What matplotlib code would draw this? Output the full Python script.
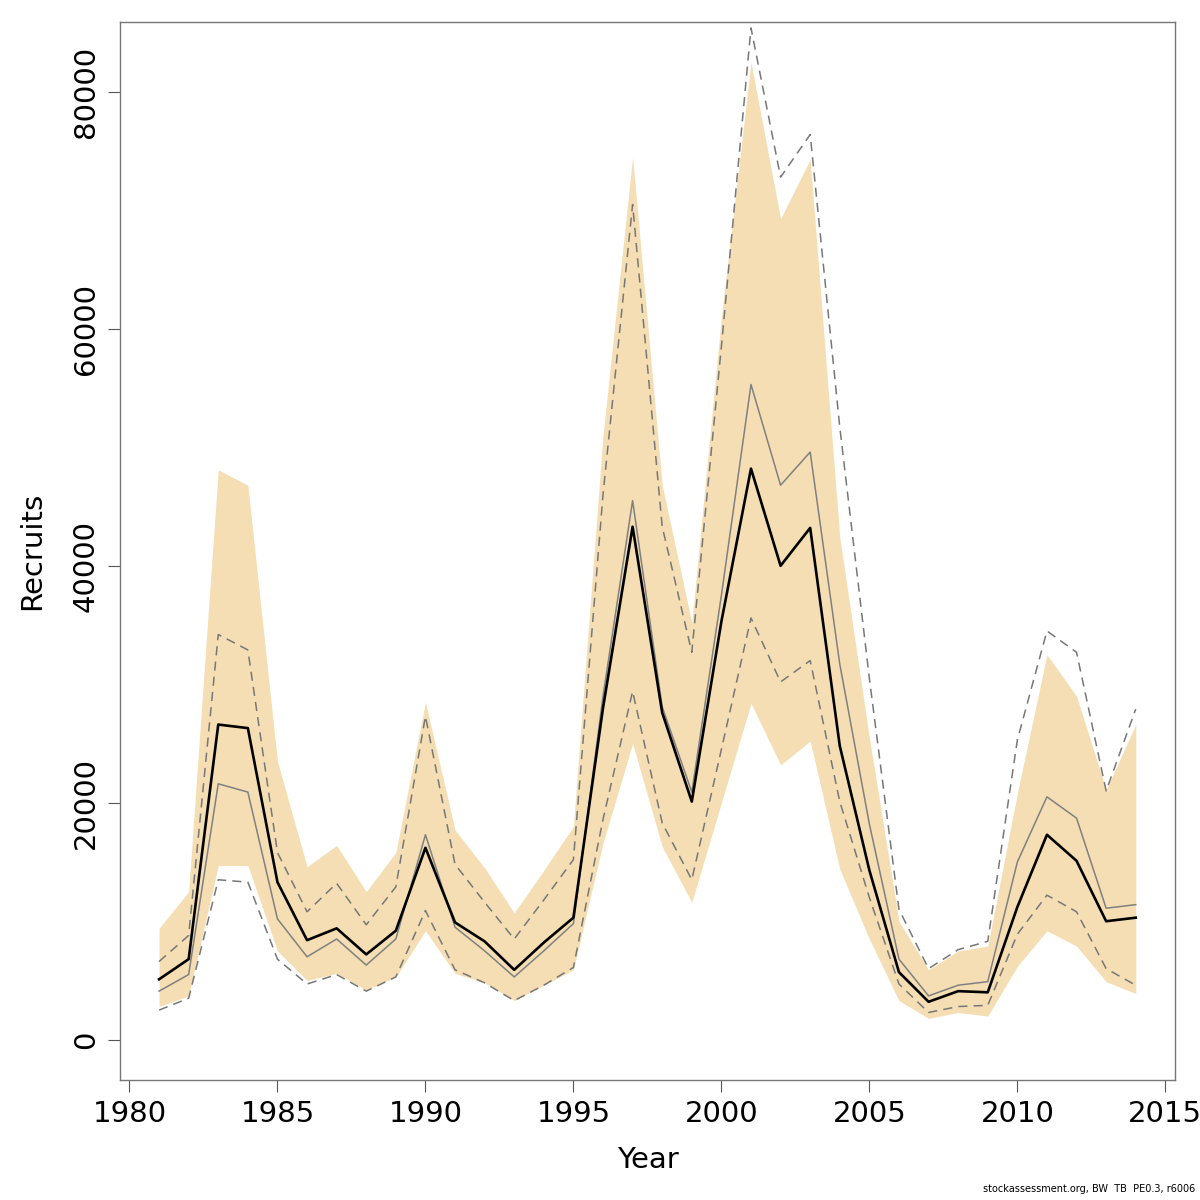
import matplotlib
matplotlib.use("Agg")
import matplotlib.pyplot as plt

# recruitment estimates
years = list(range(1981, 2015))

recruits = [5100, 6800, 26600, 26300, 13300, 8400, 9400, 7200, 9200, 16200,
            9900, 8300, 5900, 8200, 10300, 28000, 43300, 27600, 20100, 35300,
            48200, 40000, 43200, 24800, 14300, 5700, 3200, 4100, 4000, 11200,
            17300, 15100, 10000, 10300]

median = [4100, 5500, 21600, 20900, 10200, 7000, 8500, 6300, 8500, 17300,
          9500, 7500, 5300, 7500, 9800, 29000, 45500, 28100, 20900, 37500,
          55300, 46800, 49600, 31700, 18200, 6800, 3700, 4600, 4900, 15000,
          20500, 18700, 11100, 11400]

ci_hi = [6600, 8800, 34200, 32900, 15800, 10800, 13200, 9700, 12900, 27300,
         14800, 11600, 8500, 11800, 15200, 46000, 70500, 43300, 32700, 58500,
         85400, 72800, 76400, 51700, 30500, 11000, 6000, 7600, 8300, 25300,
         34500, 32700, 21000, 27900]

ci_lo = [2500, 3500, 13500, 13300, 6800, 4700, 5500, 4100, 5300, 10900,
         5900, 4800, 3300, 4600, 6100, 18600, 29400, 18300, 13500, 24500,
         35600, 30200, 32000, 20100, 12000, 4700, 2300, 2800, 2900, 8900,
         12200, 10800, 6000, 4600]

band_hi = [9400, 12500, 48100, 46800, 23500, 14600, 16400, 12500, 15800, 28500,
           17700, 14500, 10700, 14300, 18000, 51000, 74500, 46800, 35200, 61000,
           82500, 69300, 74300, 42400, 25500, 10000, 5900, 7500, 7900, 20800,
           32500, 29000, 21100, 26600]

band_lo = [2800, 3700, 14700, 14700, 7500, 5000, 5600, 4200, 5300, 9200,
           5600, 4800, 3300, 4600, 5900, 16600, 25000, 16300, 11600, 20000,
           28400, 23200, 25200, 14400, 8500, 3300, 1800, 2300, 2000, 6200,
           9200, 7900, 4900, 3900]

x_ticks = [1980, 1985, 1990, 1995, 2000, 2005, 2010, 2015]
y_ticks = [0, 20000, 40000, 60000, 80000]


def main():
    plt.rcParams['font.family'] = ['DejaVu Sans']
    fig = plt.figure(figsize=(12, 12), dpi=100)
    ax = fig.add_axes([0.1, 0.1, 0.879, 0.8817])

    ax.fill_between(years, band_lo, band_hi, color="#F5DEB3", linewidth=0)
    ax.plot(years, ci_hi, color="#777777", lw=1.1, ls=(0, (6, 4)))
    ax.plot(years, ci_lo, color="#777777", lw=1.1, ls=(0, (6, 4)))
    ax.plot(years, median, color="#808080", lw=1.1)
    ax.plot(years, recruits, color="black", lw=1.9)

    ax.set_xlim(1979.68, 2015.32)
    ax.set_ylim(-3400, 85900)

    ax.set_xticks(x_ticks)
    ax.set_yticks(y_ticks)
    ax.set_xticklabels([str(v) for v in x_ticks])
    ax.set_yticklabels([str(v) for v in y_ticks], rotation=90, va="center")
    ax.tick_params(axis="both", direction="out", length=8.6, width=0.8,
                   color="#555555", labelsize=21)
    ax.tick_params(axis="x", pad=6)
    ax.tick_params(axis="y", pad=6)

    for sp in ax.spines.values():
        sp.set_color("#777777")
        sp.set_linewidth(1.0)

    fig.text(0.5396, 1 - 1160 / 1200, "Year", fontsize=21,
             ha="center", va="center")
    fig.text(32 / 1200, 1 - 551 / 1200, "Recruits", fontsize=21,
             ha="center", va="center", rotation=90)
    fig.text(0.996, 0.005, "stockassessment.org, BW  TB  PE0.3, r6006",
             fontsize=7, ha="right", va="bottom")

    fig.savefig("out.png", dpi=100)
    plt.close(fig)


if __name__ == "__main__":
    main()
